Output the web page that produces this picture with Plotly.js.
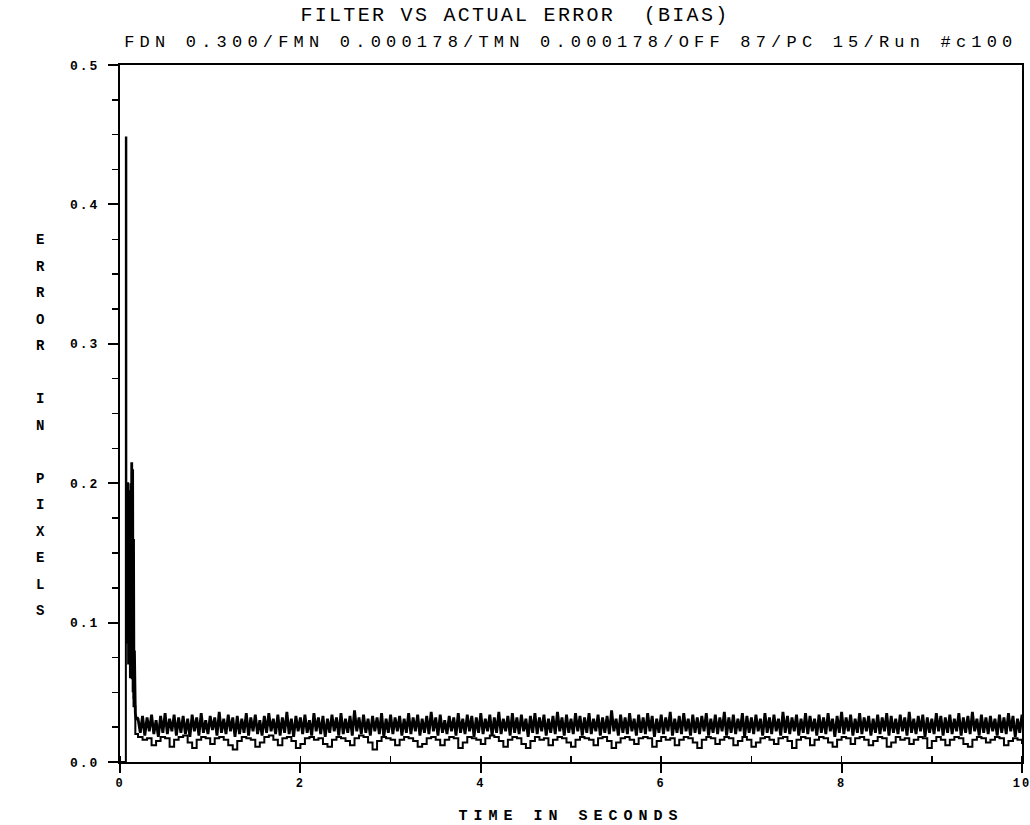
<!DOCTYPE html>
<html>
<head>
<meta charset="utf-8">
<script src="https://cdn.plot.ly/plotly-3.0.1.min.js"></script>
<style>
  html, body { margin: 0; padding: 0; background: #fff; }
  #chart { width: 1030px; height: 825px; }
  .gtitle { letter-spacing: 2.3px; }
  .annotation-text.sub { letter-spacing: 5.2px; }
  .xtick text, .ytick text { letter-spacing: 2px; }
  .g-xtitle text { letter-spacing: 6px; }
</style>
</head>
<body>
<div id="chart"></div>
<script>
// ---------- text ----------
const chartTitle = "FILTER VS ACTUAL ERROR  (BIAS)";
const chartSubtitle = "FDN 0.300/FMN 0.000178/TMN 0.000178/OFF 87/PC 15/Run #c100";
const xTitle = "TIME IN SECONDS";
const yTitle = "ERROR IN PIXELS";

// ---------- data ----------
// start-up transient of the filter error (seconds, pixels)
const transientTimeA = [0.075,0.08,0.085,0.09,0.095,0.10,0.105,0.11,0.115,0.12,0.125,0.13,0.135,0.14,0.145,0.15,0.155,0.16,0.17,0.18,0.19];
const transientErrA  = [0.085,0.20,0.09,0.195,0.07,0.19,0.08,0.17,0.06,0.20,0.07,0.215,0.06,0.21,0.05,0.16,0.045,0.08,0.035,0.03,0.032];

// steady-state filter error, sampled every 0.025 s from t = 0.2 s
const steadyStartA = 0.2, steadyStepA = 0.025;
const steadyErrA = [
.031,.021,.033,.019,.032,.022,.034,.020,.030,.018,.033,.021,.035,.020,.031,.022,.034,.019,.032,.021,
.033,.020,.031,.018,.034,.022,.032,.019,.035,.021,.030,.020,.033,.023,.032,.019,.036,.021,.031,.020,
.034,.022,.032,.018,.033,.020,.031,.021,.035,.019,.032,.022,.034,.020,.030,.019,.033,.021,.035,.022,
.031,.020,.034,.019,.032,.021,.036,.020,.031,.018,.033,.022,.032,.020,.034,.021,.030,.019,.035,.022,
.032,.020,.033,.018,.031,.021,.034,.022,.032,.019,.035,.020,.031,.021,.033,.019,.037,.022,.032,.020,
.034,.021,.031,.019,.033,.022,.032,.020,.035,.018,.031,.021,.034,.020,.032,.022,.033,.019,.031,.021,
.035,.020,.032,.022,.034,.019,.031,.021,.033,.020,.036,.022,.032,.019,.034,.021,.030,.020,.033,.022,
.032,.019,.035,.021,.031,.020,.034,.022,.033,.018,.032,.021,.035,.020,.031,.022,.034,.019,.032,.021,
.036,.020,.031,.022,.033,.019,.035,.021,.032,.020,.034,.022,.031,.018,.033,.021,.035,.020,.032,.022,
.034,.019,.031,.021,.033,.020,.036,.022,.032,.019,.034,.021,.031,.020,.035,.022,.033,.019,.032,.021,
.035,.020,.031,.022,.034,.019,.032,.021,.033,.020,.037,.022,.031,.019,.034,.021,.032,.020,.035,.022,
.031,.019,.034,.021,.032,.020,.035,.022,.033,.018,.031,.021,.034,.020,.032,.022,.036,.019,.031,.021,
.033,.020,.035,.022,.031,.019,.034,.021,.032,.020,.033,.022,.035,.019,.031,.021,.034,.020,.032,.022,
.036,.019,.032,.021,.034,.020,.031,.022,.035,.018,.033,.021,.032,.020,.034,.022,.031,.019,.035,.021,
.032,.020,.034,.022,.031,.019,.036,.021,.033,.020,.032,.022,.034,.019,.031,.021,.035,.020,.033,.022,
.031,.019,.034,.021,.032,.020,.035,.022,.031,.018,.033,.021,.036,.020,.032,.022,.034,.019,.031,.021,
.035,.020,.032,.022,.033,.019,.031,.021,.034,.020,.032,.022,.035,.019,.033,.021,.031,.020,.034,.022,
.032,.019,.036,.021,.031,.020,.033,.022,.034,.018,.032,.021,.031,.020,.035,.022,.033,.019,.032,.021,
.034,.020,.031,.022,.035,.019,.032,.021,.033,.020,.036,.022,.031,.019,.034,.021,.032,.020,.033,.022,
.031,.019,.034,.021,.032,.020,.035,.022,.033,.018,.031,.021,.034
];

// start-up transient of the actual error (seconds, pixels)
const transientTimeB = [0.0,0.06,0.065,0.07,0.075,0.09,0.11,0.13,0.15,0.17];
const transientErrB  = [0.0,0.0,0.448,0.09,0.2,0.1,0.18,0.06,0.04,0.02];

// steady-state actual error, sampled every 0.05 s from t = 0.2 s
const steadyStartB = 0.2, steadyStepB = 0.05;
const steadyErrB = [
.018,.016,.017,.012,.015,.018,.017,.011,.016,.018,.019,.014,.010,.016,.018,.017,.013,.017,.018,.016,
.012,.009,.015,.018,.017,.016,.011,.014,.018,.019,.016,.012,.017,.018,.015,.010,.013,.017,.018,.016,
.017,.013,.011,.016,.018,.017,.015,.012,.017,.019,.018,.014,.009,.015,.018,.017,.016,.012,.016,.018,
.017,.015,.011,.013,.017,.018,.016,.012,.016,.018,.017,.010,.014,.018,.017,.016,.013,.017,.019,.018,
.015,.011,.016,.018,.017,.013,.010,.015,.018,.016,.017,.012,.016,.018,.017,.014,.011,.016,.018,.017,
.016,.012,.017,.018,.015,.010,.014,.017,.018,.016,.013,.017,.018,.017,.011,.015,.018,.016,.017,.012,
.016,.018,.017,.014,.010,.016,.018,.017,.013,.016,.018,.017,.012,.015,.018,.016,.011,.014,.017,.018,
.016,.013,.017,.018,.015,.010,.016,.018,.017,.012,.016,.018,.017,.014,.011,.016,.018,.017,.013,.017,
.018,.016,.012,.015,.018,.017,.011,.014,.018,.016,.017,.013,.016,.018,.017,.010,.015,.018,.016,.012,
.016,.018,.017,.013,.011,.016,.018,.017,.014,.016,.018,.017,.012,.015,.017,.016,.013
];

// axis ranges and ticks
const xRange = [0, 10];
const yRange = [0, 0.5];
const xTickVals = [0, 2, 4, 6, 8, 10];
const xTickText = ['0', '2', '4', '6', '8', '10'];

// ---------- build series ----------
const timeA = transientTimeA.concat(steadyErrA.map((_, i) => +(steadyStartA + i * steadyStepA).toFixed(3)));
const errA  = transientErrA.concat(steadyErrA);
const timeB = transientTimeB.concat(steadyErrB.map((_, i) => +(steadyStartB + i * steadyStepB).toFixed(3)));
const errB  = transientErrB.concat(steadyErrB);

const FONT = '"Liberation Mono", "DejaVu Sans Mono", monospace';

const traces = [
  { x: timeB, y: errB, type: 'scatter', mode: 'lines', name: 'ACTUAL',
    line: { color: '#000', width: 2, shape: 'hv' }, hoverinfo: 'skip' },
  { x: timeA, y: errA, type: 'scatter', mode: 'lines', name: 'FILTER',
    line: { color: '#000', width: 2.8 }, hoverinfo: 'skip' }
];

// stacked vertical y label
const PLOT_TOP = 65, PLOT_BOTTOM = 762, PLOT_LEFT = 120, PLOT_W = 902;
const letterAnn = yTitle.split('').map((ch, i) => ({
  text: ch === ' ' ? '' : ch, showarrow: false,
  xref: 'paper', yref: 'paper',
  x: (40 - PLOT_LEFT) / PLOT_W,
  y: (PLOT_BOTTOM - (240 + i * 26.5)) / (PLOT_BOTTOM - PLOT_TOP),
  xanchor: 'center', yanchor: 'middle',
  font: { family: FONT, size: 14, color: '#000', weight: 'bold' }
}));

const layout = {
  width: 1030, height: 825,
  paper_bgcolor: '#fff', plot_bgcolor: '#fff',
  margin: { l: 120, r: 8, t: 65, b: 63, autoexpand: false },
  showlegend: false,
  title: { text: chartTitle, xref: 'container', yref: 'container', x: 0.5, y: 1 - 14 / 825,
           xanchor: 'center', yanchor: 'middle',
           font: { family: FONT, size: 20, color: '#000' } },
  xaxis: {
    range: xRange, showgrid: false, zeroline: false, automargin: false,
    showline: true, linecolor: '#000', linewidth: 2, mirror: true,
    tickmode: 'array', tickvals: xTickVals, ticktext: xTickText, ticklabeloverflow: 'allow',
    ticks: 'outside', ticklen: 9, tickwidth: 2, tickcolor: '#000',
    minor: { tickmode: 'linear', tick0: 0, dtick: 1, ticks: 'inside', ticklen: 6, tickwidth: 1.5, tickcolor: '#000' },
    tickfont: { family: FONT, size: 12, color: '#000', weight: 'bold' },
    title: { text: xTitle, standoff: 22, font: { family: FONT, size: 15, color: '#000', weight: 'bold' } }
  },
  yaxis: {
    range: yRange, showgrid: false, zeroline: false, automargin: false,
    showline: true, linecolor: '#000', linewidth: 2, mirror: true,
    tickmode: 'linear', tick0: 0, dtick: 0.1, tickformat: '.1f',
    ticks: 'outside', ticklen: 10, tickwidth: 2, tickcolor: '#000',
    minor: { tickmode: 'linear', tick0: 0, dtick: 0.025, ticks: 'outside', ticklen: 6, tickwidth: 1.5, tickcolor: '#000' },
    tickfont: { family: FONT, size: 13, color: '#000', weight: 'bold' },
    ticklabelstandoff: 6
  },
  annotations: [
    { text: chartSubtitle, showarrow: false, xref: 'paper', yref: 'paper',
      x: 0.5, y: (PLOT_BOTTOM - 42) / (PLOT_BOTTOM - PLOT_TOP), xanchor: 'center', yanchor: 'middle',
      font: { family: FONT, size: 17, color: '#000' } }
  ].concat(letterAnn)
};

Plotly.newPlot('chart', traces, layout, { staticPlot: true, displayModeBar: false }).then(() => {
  const sub = document.querySelectorAll('.annotation-text')[0];
  if (sub) sub.classList.add('sub');
});
</script>
</body>
</html>
